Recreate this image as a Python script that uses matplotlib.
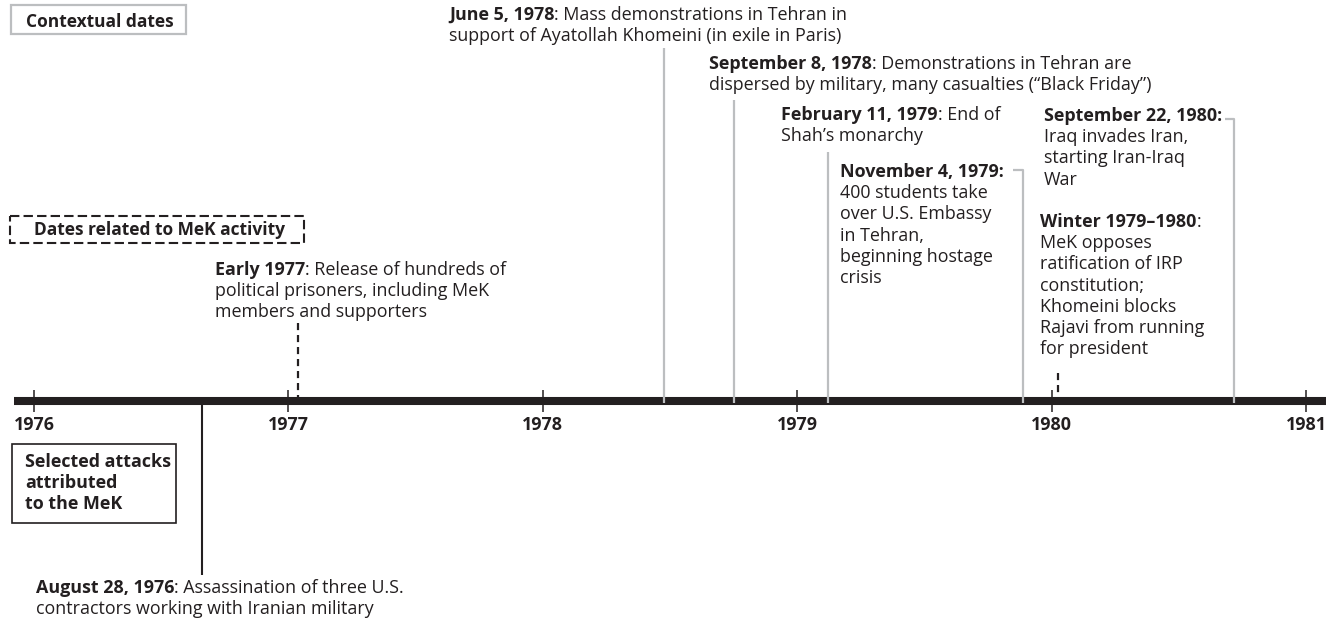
import matplotlib
matplotlib.use("Agg")
import matplotlib.pyplot as plt
from matplotlib import font_manager
from matplotlib.patches import Rectangle

# pick a humanist sans that has a real bold face installed
fam = 'DejaVu Sans'
for name in ['Open Sans', 'Noto Sans', 'Lato', 'Roboto', 'Inter']:
    faces = [f for f in font_manager.fontManager.ttflist if f.name == name]
    if any(f.weight in ('bold', 700, 'semibold', 600) or
           (isinstance(f.weight, int) and f.weight >= 600) for f in faces):
        fam = name
        break
plt.rcParams['font.family'] = [fam, 'DejaVu Sans']

INK = '#231f20'
GRAY = '#bcbec0'
FS = 12.9

# ---- data ----
years = [1976, 1977, 1978, 1979, 1980, 1981]

# contextual dates (gray lines)
ctx_bold = ['June 5, 1978', 'September 8, 1978', 'February 11, 1979',
            'November 4, 1979:', 'September 22, 1980:']
ctx_text = [
    [': Mass demonstrations in Tehran in',
     'support of Ayatollah Khomeini (in exile in Paris)'],
    [': Demonstrations in Tehran are',
     'dispersed by military, many casualties (\u201cBlack Friday\u201d)'],
    [': End of', 'Shah\u2019s monarchy'],
    ['', '400 students take', 'over U.S. Embassy', 'in Tehran,',
     'beginning hostage', 'crisis'],
    ['', 'Iraq invades Iran,', 'starting Iran-Iraq', 'War'],
]
ctx_when = [1978.476, 1978.751, 1979.12, 1979.886, 1980.716]

# dates related to MeK activity (dashed lines)
mek_bold = ['Early 1977', 'Winter 1979\u20131980']
mek_text = [
    [': Release of hundreds of', 'political prisoners, including MeK',
     'members and supporters'],
    [':', 'MeK opposes', 'ratification of IRP', 'constitution;',
     'Khomeini blocks', 'Rajavi from running', 'for president'],
]
mek_when = [1977.038, 1980.024]

# attacks attributed to the MeK (below the axis)
atk_bold = ['August 28, 1976']
atk_text = [[': Assassination of three U.S.',
             'contractors working with Iranian military']]
atk_when = [1976.66]

# ---- layout (pixels) ----
W, H = 1326, 618
PPY = 254.4                      # pixels per year
x0 = 1976 - 34 / PPY
AXIS_Y = 401
LG = 21.2                        # line gap

ctx_top = [48, 100, 152, 170, 119]
ctx_hook = [0, 0, 0, 10, 9]
ctx_xy = [(449, 20), (709, 69), (781, 120), (840, 177), (1044, 121)]
mek_top = [323, 373]
mek_xy = [(215, 275), (1040, 227)]
atk_xy = [(36, 593)]
atk_bottom = [575]

fig = plt.figure(figsize=(W / 100, H / 100), dpi=100)
ax = fig.add_axes([0, 0, 1, 1])
ax.set_xlim(x0, x0 + W / PPY)
ax.set_ylim(H, 0)
ax.axis('off')

tx = fig.add_axes([0, 0, 1, 1], facecolor='none')
tx.set_xlim(0, W)
tx.set_ylim(H, 0)
tx.axis('off')

# timeline
ax.hlines(AXIS_Y, 1976 - 20 / PPY, x0 + W / PPY, color=INK, lw=5.8,
          capstyle='butt', zorder=3)
ax.vlines(years, AXIS_Y - 11, AXIS_Y + 11, color=INK, lw=1.1, zorder=3)
for yr in years:
    ax.text(yr, 430, str(yr), ha='center', va='baseline', weight='bold',
            fontsize=FS, color=INK)

for when, top, hook in zip(ctx_when, ctx_top, ctx_hook):
    ax.plot([when - hook / PPY, when, when], [top, top, AXIS_Y + 2],
            color=GRAY, lw=1.6, zorder=4, solid_capstyle='butt')

ax.vlines(mek_when, mek_top, AXIS_Y - 4, color=INK, lw=1.6,
          linestyles=(0, (3.2, 2.2)), zorder=4)
ax.vlines(atk_when, AXIS_Y, atk_bottom, color=INK, lw=1.5, zorder=2)

# legend boxes
tx.add_patch(Rectangle((11, 5), 175, 29, fill=False, ec=GRAY, lw=1.6))
tx.text(26, 27, 'Contextual dates', weight='bold', fontsize=FS - 0.4,
        color=INK)
tx.add_patch(Rectangle((10, 216), 294, 27, fill=False, ec=INK, lw=1.5,
                       ls=(0, (4.5, 2))))
tx.text(34, 235, 'Dates related to MeK activity', weight='bold',
        fontsize=FS - 0.4, color=INK)
tx.add_patch(Rectangle((12, 444), 164, 79, fill=False, ec=INK, lw=1.2))
for i, s in enumerate(['Selected attacks', 'attributed', 'to the MeK']):
    tx.text(25, 467 + i * 21, s, weight='bold', fontsize=FS, color=INK)

renderer = fig.canvas.get_renderer()


def write(x, y, bold, lines):
    t = tx.text(x, y, bold, weight='bold', va='baseline', ha='left',
                fontsize=FS, color=INK)
    if lines[0]:
        w = t.get_window_extent(renderer).width
        tx.text(x + w, y, lines[0], va='baseline', ha='left',
                fontsize=FS, color=INK)
    for i, s in enumerate(lines[1:], 1):
        tx.text(x, y + i * LG, s, va='baseline', ha='left',
                fontsize=FS, color=INK)


for (x, y), b, lines in zip(ctx_xy, ctx_bold, ctx_text):
    write(x, y, b, lines)
for (x, y), b, lines in zip(mek_xy, mek_bold, mek_text):
    write(x, y, b, lines)
for (x, y), b, lines in zip(atk_xy, atk_bold, atk_text):
    write(x, y, b, lines)

fig.savefig('out.png', dpi=100)
